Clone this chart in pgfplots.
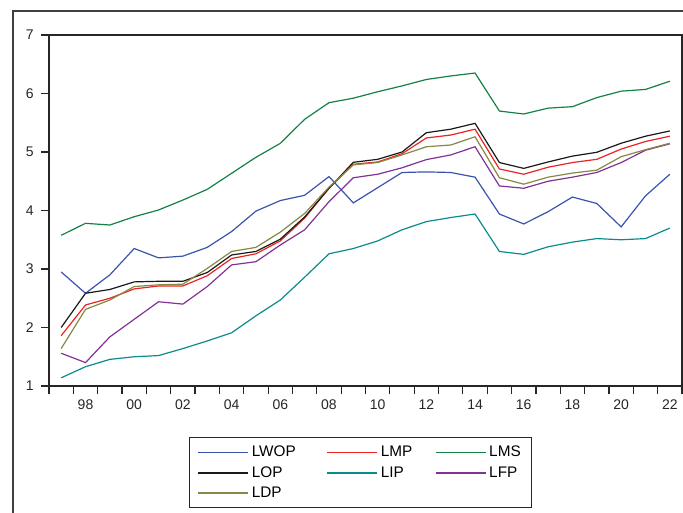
\documentclass[border=0pt]{standalone}
\usepackage{pgfplots}
\usepackage{pgfplotstable}
\pgfplotsset{compat=1.18}
\usepackage{fontspec}
\setmainfont{Liberation Sans}
\definecolor{cLWOP}{RGB}{58,84,170}
\definecolor{cLMP}{RGB}{235,35,35}
\definecolor{cLMS}{RGB}{20,130,70}
\definecolor{cLOP}{RGB}{25,25,25}
\definecolor{cLIP}{RGB}{10,140,140}
\definecolor{cLFP}{RGB}{130,50,150}
\definecolor{cLDP}{RGB}{135,135,70}
\pgfplotstableread{
year LWOP LMP LMS LOP LIP LFP LDP
1997 2.95 1.86 3.576 2.00 1.14 1.56 1.64
1998 2.585 2.385 3.781 2.585 1.33 1.40 2.31
1999 2.90 2.50 3.752 2.65 1.455 1.84 2.47
2000 3.35 2.66 3.894 2.78 1.50 2.14 2.70
2001 3.19 2.71 4.009 2.79 1.52 2.44 2.73
2002 3.22 2.71 4.179 2.79 1.64 2.40 2.74
2003 3.37 2.885 4.362 2.94 1.77 2.70 3.01
2004 3.64 3.18 4.636 3.24 1.91 3.07 3.30
2005 3.99 3.26 4.91 3.30 2.20 3.125 3.37
2006 4.17 3.48 5.148 3.51 2.47 3.41 3.63
2007 4.26 3.87 5.559 3.89 2.86 3.67 3.95
2008 4.58 4.38 5.843 4.38 3.26 4.15 4.40
2009 4.13 4.79 5.92 4.824 3.35 4.56 4.78
2010 4.39 4.83 6.03 4.875 3.48 4.62 4.82
2011 4.65 4.97 6.13 5.00 3.67 4.73 4.95
2012 4.66 5.24 6.24 5.33 3.81 4.87 5.09
2013 4.65 5.29 6.30 5.39 3.88 4.95 5.12
2014 4.57 5.39 6.35 5.49 3.94 5.09 5.26
2015 3.94 4.71 5.70 4.82 3.30 4.42 4.56
2016 3.77 4.62 5.65 4.72 3.25 4.38 4.45
2017 3.98 4.74 5.75 4.83 3.38 4.50 4.57
2018 4.23 4.82 5.775 4.93 3.46 4.57 4.64
2019 4.12 4.875 5.93 4.995 3.52 4.65 4.69
2020 3.72 5.05 6.04 5.15 3.50 4.82 4.92
2021 4.25 5.18 6.07 5.27 3.52 5.03 5.04
2022 4.62 5.27 6.21 5.36 3.70 5.14 5.15
}\datatable
\begin{document}
\begin{tikzpicture}
\useasboundingbox (0,0) rectangle (512.25pt,384pt);
\draw[black!75, line width=0.8pt] (9.75pt,-2pt) -- (9.75pt,375.75pt) -- (514pt,375.75pt);
\begin{axis}[
  at={(36.75pt,94.5pt)}, anchor=south west,
  scale only axis, width=474.75pt, height=263.25pt,
  xmin=1996.5, xmax=2022.5, ymin=1, ymax=7,
  axis line style={black!85, line width=1pt},
  tick style={black!85, line width=0.9pt},
  tick align=outside,
  xtick pos=bottom, ytick pos=left,
  xtick={1998,2000,...,2022},
  xticklabels={98,00,02,04,06,08,10,12,14,16,18,20,22},
  major x tick style={draw=none},
  minor xtick={1996.5,1997.5,...,2022.5},
  minor tick length=6pt,
  ytick={1,2,...,7},
  major tick length=6pt,
  /pgf/number format/assume math mode=true,
  tick label style={font=\fontsize{10.5}{12}\selectfont, text=black!85},
  xticklabel style={yshift=-1pt},
  yticklabel style={xshift=-2pt},
  every axis plot/.append style={line width=0.9pt},
  legend image code/.code={\draw[#1, line width=1.2pt] (0pt,0pt) -- (37.5pt,0pt);},
  legend columns=3,
  legend cell align=left,
  legend style={at={(0.2212,-0.1453)}, anchor=north west,
    draw=black!85, line width=0.8pt,
    font=\fontsize{11.5}{13}\selectfont,
    inner xsep=6pt, inner ysep=4.5pt, row sep=1.6pt,
    /tikz/column 2/.style={column sep=21pt},
    /tikz/column 4/.style={column sep=15pt}},
]
\addplot[cLWOP] table[x=year,y=LWOP]{\datatable};
\addlegendentry{LWOP}
\addplot[cLMP] table[x=year,y=LMP]{\datatable};
\addlegendentry{LMP}
\addplot[cLMS] table[x=year,y=LMS]{\datatable};
\addlegendentry{LMS}
\addplot[cLOP] table[x=year,y=LOP]{\datatable};
\addlegendentry{LOP}
\addplot[cLIP] table[x=year,y=LIP]{\datatable};
\addlegendentry{LIP}
\addplot[cLFP] table[x=year,y=LFP]{\datatable};
\addlegendentry{LFP}
\addplot[cLDP] table[x=year,y=LDP]{\datatable};
\addlegendentry{LDP}
\end{axis}
\end{tikzpicture}
\end{document}
